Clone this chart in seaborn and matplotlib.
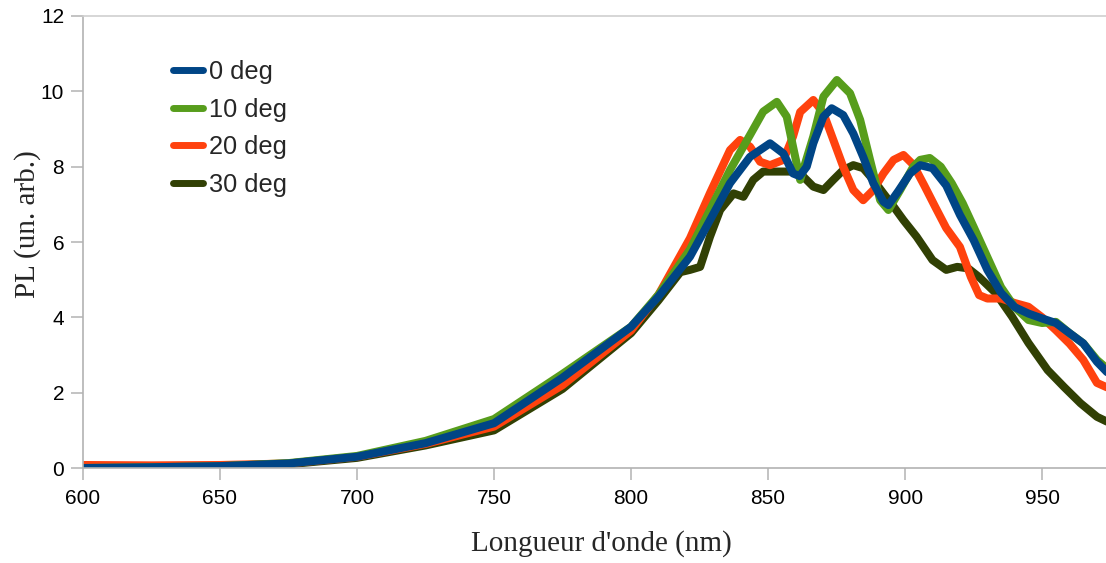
import numpy as np
import pandas as pd
import matplotlib
matplotlib.use("Agg")
import matplotlib.pyplot as plt
import seaborn as sns
from matplotlib.lines import Line2D

# Photoluminescence spectra for four detection angles
wl_0 = [600, 625, 650, 675, 700, 725, 750, 775, 800, 810, 821.5, 828.8, 836.1, 843.4, 850.7,
        855.6, 859.1, 861.5, 864.1, 866.5, 870.2, 873.2, 877.4, 881.1, 884.7, 888.4, 892.1,
        893.9, 897.5, 901.8, 905.5, 910, 915, 920, 925, 930, 935, 940, 945, 950, 955, 960,
        965, 970, 974]
pl_0 = [0.0, 0.02, 0.05, 0.12, 0.3, 0.66, 1.19, 2.4, 3.75, 4.55, 5.61, 6.58, 7.56, 8.26, 8.62,
        8.35, 7.82, 7.75, 8.0, 8.62, 9.33, 9.55, 9.37, 8.88, 8.26, 7.56, 7.07,
        6.98, 7.35, 7.82, 8.04, 7.96, 7.5, 6.72, 6.05, 5.26, 4.65, 4.27, 4.1, 3.97, 3.85, 3.58,
        3.31, 2.82, 2.52]

wl_10 = [600, 625, 650, 675, 700, 725, 750, 775, 800, 810, 821.5, 828.8, 836.1, 843.4, 848.2,
         853.2, 856.8, 859.1, 861.7, 866.5, 870.2, 875.1, 879.9, 883.6, 887.2, 890.9, 893.9,
         898.2, 903, 905.5, 909, 913, 917, 921, 925, 930, 935, 940, 945, 950, 955, 960, 965,
         970, 974]
pl_10 = [0.0, 0.02, 0.05, 0.13, 0.32, 0.72, 1.3, 2.5, 3.75, 4.6, 5.8, 6.85, 7.91, 8.84, 9.46,
         9.72, 9.33, 8.53, 7.65, 8.8, 9.86, 10.3, 9.95, 9.24, 8.18, 7.11, 6.85,
         7.38, 8.0, 8.18, 8.23, 8.0, 7.56, 7.03, 6.4, 5.6, 4.8, 4.27, 3.93, 3.85, 3.88, 3.58, 3.31,
         2.87, 2.62]

wl_20 = [600, 625, 650, 675, 700, 725, 750, 775, 800, 810, 821.5, 828.8, 836.1, 839.8, 843.4,
         847.1, 850.7, 855.6, 859.1, 861.7, 866.5, 870.2, 873.8, 877.4, 881.1, 884.7, 888.4,
         892.1, 895.8, 899.4, 903, 907, 911, 915, 920, 924, 927, 930, 935, 940, 945, 950, 955,
         960, 965, 970, 974]
pl_20 = [0.08, 0.07, 0.08, 0.12, 0.3, 0.64, 1.1, 2.2, 3.65, 4.6, 6.1, 7.3, 8.44, 8.71, 8.53,
         8.13, 8.04, 8.18, 8.8, 9.45, 9.77, 9.42, 8.71, 8.0, 7.38, 7.11, 7.38,
         7.82, 8.18, 8.31, 8.05, 7.5, 6.93, 6.37, 5.87, 5.07, 4.59, 4.5, 4.5, 4.38, 4.28, 4.0, 3.66,
         3.3, 2.87, 2.26, 2.13]

wl_30 = [600, 625, 650, 675, 700, 725, 750, 775, 800, 810, 818, 821.5, 825.2, 828.8, 832.5,
         837.4, 841, 844.6, 848.2, 857.9, 861.7, 866.5, 870.2, 873.8, 877.4, 881.1, 884.7,
         888.4, 892.1, 895.8, 899.4, 904.2, 910, 915, 919, 923, 927, 933, 939, 945, 952, 958,
         964, 970, 974]
pl_30 = [0.0, 0.02, 0.04, 0.1, 0.27, 0.6, 1.0, 2.1, 3.58, 4.45, 5.2, 5.26, 5.34, 6.14, 6.85,
         7.29, 7.2, 7.65, 7.87, 7.87, 7.82, 7.47, 7.38, 7.65, 7.91, 8.04, 7.96,
         7.65, 7.29, 6.94, 6.58, 6.14, 5.52, 5.26, 5.34, 5.3, 5.07, 4.65, 4.02, 3.32, 2.6, 2.15,
         1.72, 1.36, 1.22]

labels = ["0 deg", "10 deg", "20 deg", "30 deg"]
colors = ["#004586", "#579d1c", "#ff420e", "#314004"]

frames = []
for lab, wl, pl in zip(labels, [wl_0, wl_10, wl_20, wl_30], [pl_0, pl_10, pl_20, pl_30]):
    frames.append(pd.DataFrame({"wl": wl, "pl": pl, "angle": lab}))
df = pd.concat(frames, ignore_index=True)

sns.set_style("white")
plt.rcParams["font.family"] = ["Liberation Sans", "DejaVu Sans"]

fig = plt.figure(figsize=(11.06, 5.63), dpi=100)
ax = fig.add_axes([0.075, 0.1687, 0.925, 0.8029])

palette = dict(zip(labels, colors))
# draw 30 deg first so 0 deg ends up on top
for lab in labels[::-1]:
    sub = df[df["angle"] == lab]
    sns.lineplot(data=sub, x="wl", y="pl", color=palette[lab], lw=5.8,
                 ax=ax, legend=False, sort=True, solid_capstyle="round",
                 solid_joinstyle="round")

ax.set_xlim(600, 973.3)
ax.set_ylim(0, 12)
ax.set_xticks([600, 650, 700, 750, 800, 850, 900, 950])
ax.set_yticks([0, 2, 4, 6, 8, 10, 12])

grid_col = "#b3b3b3"
for s in ["left", "bottom", "top"]:
    ax.spines[s].set_visible(True)
    ax.spines[s].set_color(grid_col)
    ax.spines[s].set_linewidth(1.2)
ax.spines["right"].set_visible(False)
ax.spines["top"].set_color("#d0d0d0")

ax.tick_params(axis="both", which="major", direction="out", length=8.5, width=1.1,
               color=grid_col, labelsize=15, labelcolor="black", pad=5,
               bottom=True, left=True)
ax.tick_params(axis="x", pad=6.5)

serif = ["Liberation Serif", "DejaVu Serif"]
ax.set_xlabel("Longueur d'onde (nm)", family=serif, fontsize=21)
ax.set_ylabel("PL (un. arb.)", family=serif, fontsize=21)
ax.xaxis.set_label_coords(0.507, -0.137)
ax.yaxis.set_label_coords(-0.041, 0.54)

handles = [Line2D([0], [0], color=c, lw=5) for c in colors]
ax.legend(handles, labels, loc="upper left", bbox_to_anchor=(0.088, 0.902),
          frameon=False, fontsize=18.3, handlelength=1.18, handletextpad=0.24,
          labelspacing=0.53, borderpad=0, borderaxespad=0)

fig.savefig("out.png", dpi=100)
